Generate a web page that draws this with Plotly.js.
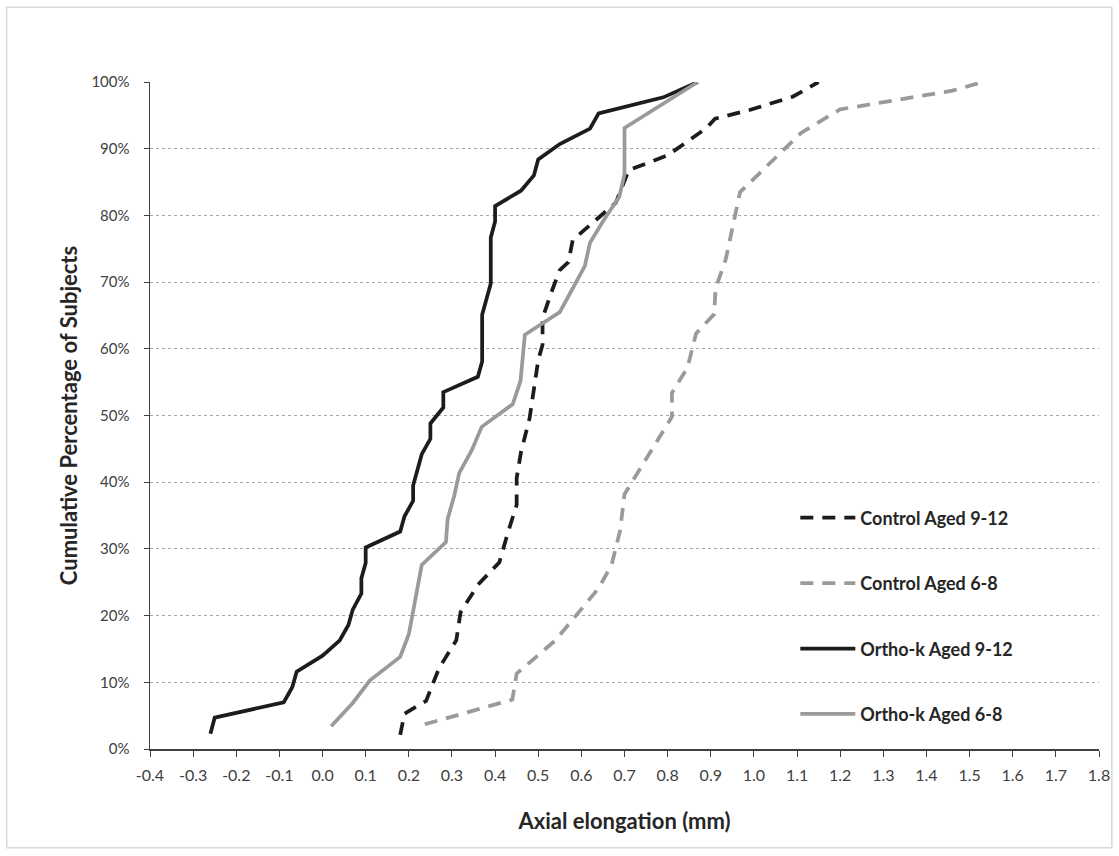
<!DOCTYPE html>
<html>
<head>
<meta charset="utf-8">
<script src="https://cdn.plot.ly/plotly-3.0.1.min.js"></script>
<style>html,body{margin:0;padding:0;background:#fff;}#chart{width:1119px;height:856px;}</style>
</head>
<body>
<div id="chart"></div>
<script>
// ---- data ----
const seriesNames = ["Control Aged 9-12", "Control Aged 6-8", "Ortho-k Aged 9-12", "Ortho-k Aged 6-8"];

const control912X = [0.18,0.19,0.24,0.27,0.31,0.32,0.36,0.41,0.43,0.45,0.45,0.46,0.48,0.49,0.50,0.51,0.51,0.53,0.55,0.57,0.58,0.68,0.71,0.80,0.89,0.91,0.99,1.09,1.15];
const control912Y = [2.1,5.3,7.2,12.1,16.3,20.5,24.6,28.0,32.5,36.6,40.6,44.5,49.6,53.8,58.3,60.6,64.6,68.4,71.8,73.0,76.3,81.9,86.8,89.0,93.1,94.5,95.8,97.8,100];

const control68X = [0.237,0.44,0.45,0.50,0.54,0.64,0.67,0.69,0.70,0.81,0.81,0.846,0.866,0.908,0.911,0.935,0.968,1.11,1.20,1.46,1.525];
const control68Y = [3.7,7.4,11.3,14.0,16.3,24.1,27.6,32.8,38.2,49.8,53.4,57.2,62.3,65.2,69.0,73.5,83.5,92.4,95.9,98.7,99.9];

const orthok912X = [-0.26,-0.25,-0.09,-0.07,-0.06,0.00,0.04,0.06,0.07,0.09,0.09,0.10,0.10,0.18,0.19,0.21,0.21,0.23,0.25,0.25,0.28,0.28,0.36,0.37,0.37,0.38,0.39,0.39,0.40,0.40,0.46,0.49,0.50,0.55,0.62,0.64,0.79,0.87];
const orthok912Y = [2.3,4.7,7.0,9.3,11.6,14.0,16.3,18.6,20.9,23.3,25.6,27.9,30.2,32.6,34.9,37.2,39.5,44.2,46.5,48.8,51.2,53.5,55.8,58.1,65.1,67.4,69.8,76.7,79.1,81.4,83.7,86.0,88.4,90.7,93.0,95.3,97.7,100];

const orthok68X = [0.02,0.07,0.11,0.18,0.20,0.21,0.22,0.23,0.286,0.29,0.305,0.317,0.346,0.369,0.441,0.459,0.469,0.55,0.608,0.62,0.652,0.688,0.70,0.70,0.87];
const orthok68Y = [3.4,6.9,10.3,13.8,17.2,20.7,24.1,27.6,31.0,34.5,37.9,41.4,44.8,48.3,51.7,55.2,62.1,65.5,72.4,75.9,79.3,82.8,86.2,93.1,100];

const xTickVals = [-0.4,-0.3,-0.2,-0.1,0,0.1,0.2,0.3,0.4,0.5,0.6,0.7,0.8,0.9,1.0,1.1,1.2,1.3,1.4,1.5,1.6,1.7,1.8];
const xTickText = ["-0.4","-0.3","-0.2","-0.1","0.0","0.1","0.2","0.3","0.4","0.5","0.6","0.7","0.8","0.9","1.0","1.1","1.2","1.3","1.4","1.5","1.6","1.7","1.8"];
const yTickVals = [0,10,20,30,40,50,60,70,80,90,100];
const yTickText = ["0%","10%","20%","30%","40%","50%","60%","70%","80%","90%","100%"];

// ---- styles ----
const BLACK = "#1c1c1c", GREY = "#9a9a9a";
const FONT = "Lato, 'Open Sans', sans-serif";

const traces = [
  {x: control912X, y: control912Y, name: seriesNames[0], legendgroup: "a",
   line: {color: BLACK, width: 3.75, dash: "13px,9px"}},
  {x: control68X, y: control68Y, name: seriesNames[1], legendgroup: "b",
   line: {color: GREY, width: 3.75, dash: "13px,9px"}},
  {x: orthok912X, y: orthok912Y, name: seriesNames[2], legendgroup: "c",
   line: {color: BLACK, width: 3.75}},
  {x: orthok68X, y: orthok68Y, name: seriesNames[3], legendgroup: "d",
   line: {color: GREY, width: 3.75}}
].map(t => Object.assign({type: "scatter", mode: "lines", hoverinfo: "skip"}, t));

const layout = {
  width: 1119, height: 856,
  margin: {l: 150, r: 20, t: 82, b: 107},
  paper_bgcolor: "#fff", plot_bgcolor: "#fff",
  font: {family: FONT, color: "#404040", size: 15},
  showlegend: true,
  legend: {
    x: 0.68, y: 0.374, xanchor: "left", yanchor: "top",
    bgcolor: "rgba(0,0,0,0)",
    font: {family: FONT, size: 18, color: "#262626", weight: "bold"},
    tracegroupgap: 39, itemwidth: 55
  },
  xaxis: {
    range: [-0.4, 1.8], tickmode: "array", tickvals: xTickVals, ticktext: xTickText,
    showgrid: false, zeroline: false, showline: true, linecolor: "#404040", linewidth: 1.5,
    ticks: "outside", ticklen: 6, tickcolor: "#404040", tickwidth: 1,
    ticklabelstandoff: 5,
    tickfont: {family: FONT, size: 16, color: "#404040"},
    title: {text: "Axial elongation (mm)", standoff: 31,
            font: {family: FONT, size: 22, color: "#262626", weight: "bold"}}
  },
  yaxis: {
    range: [0, 100], tickmode: "array", tickvals: yTickVals, ticktext: yTickText,
    showgrid: true, gridcolor: "#a6a6a6", griddash: "dot", gridwidth: 1,
    zeroline: false, showline: true, linecolor: "#404040", linewidth: 1.5,
    ticks: "outside", ticklen: 5, tickcolor: "#404040", tickwidth: 1,
    ticklabelstandoff: 11,
    tickfont: {family: FONT, size: 15, color: "#404040"},
    title: {text: "Cumulative Percentage of Subjects", standoff: 7,
            font: {family: FONT, size: 22, color: "#262626", weight: "bold"}}
  },
  shapes: [{
    type: "rect", xref: "paper", yref: "paper",
    x0: -0.151, x1: 1.0135, y0: -0.148, y1: 1.112,
    line: {color: "#d9d9d9", width: 1.5}, fillcolor: "rgba(0,0,0,0)", layer: "below"
  }]
};

Plotly.newPlot("chart", traces, layout, {displayModeBar: false, staticPlot: true});
</script>
</body>
</html>
